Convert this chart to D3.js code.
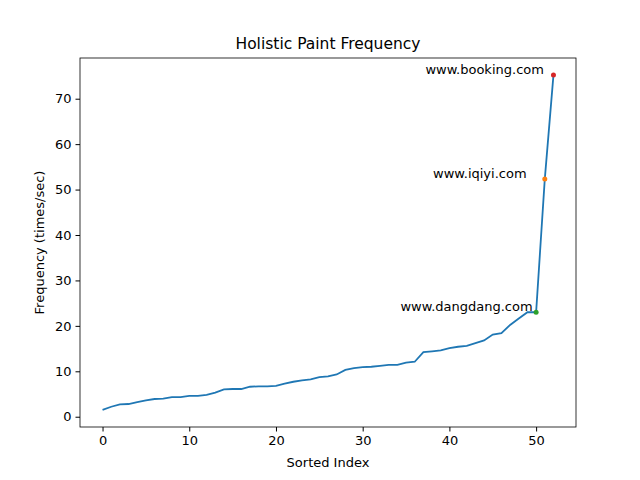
<!DOCTYPE html><html><head><script src="https://cdn.jsdelivr.net/npm/d3@7"></script>
<style>body{margin:0}text{font-family:"DejaVu Sans";}</style></head><body><svg width="640" height="480"></svg><script>
const values=[1.5,2.2,2.7,2.8,3.2,3.6,3.9,4.0,4.3,4.3,4.6,4.6,4.8,5.3,6.0,6.1,6.1,6.6,6.7,6.7,6.8,7.3,7.7,8.0,8.2,8.7,8.9,9.3,10.3,10.7,10.9,11.0,11.2,11.4,11.4,11.9,12.1,14.2,14.4,14.6,15.1,15.4,15.6,16.2,16.8,18.1,18.4,20.2,21.6,23.0,23.0,52.3,75.2];
const labels=[{i:50,t:"www.dangdang.com",c:"#2ca02c",lx:49.6,ly:24.1},{i:51,t:"www.iqiyi.com",c:"#ff7f0e",lx:48.9,ly:53.3},{i:52,t:"www.booking.com",c:"#d62728",lx:50.9,ly:76.3}];
const xTicks=[0,10,20,30,40,50],yTicks=[0,10,20,30,40,50,60,70];
const svg=d3.select("svg");
const L=80,R=576,T=58,B=427;
const x=d3.scaleLinear().domain([-2.6,54.6]).range([L,R]);
const y=d3.scaleLinear().domain([-2.26,78.96]).range([B,T]);
svg.append("g").attr("transform",`translate(0,${B})`).call(d3.axisBottom(x).tickValues(xTicks).tickSize(4.5).tickPadding(4)).call(g=>g.select(".domain").remove());
svg.append("g").attr("transform",`translate(${L},0)`).call(d3.axisLeft(y).tickValues(yTicks).tickSize(4.5).tickPadding(4)).call(g=>g.select(".domain").remove());
svg.selectAll(".tick text").attr("font-size",13).attr("font-family","DejaVu Sans").attr("fill","#000");
svg.append("rect").attr("x",L).attr("y",T).attr("width",R-L).attr("height",B-T).attr("fill","none").attr("stroke","#000").attr("stroke-width",0.8);
svg.append("path").datum(values).attr("d",d3.line().x((d,i)=>x(i)).y(d=>y(d))).attr("fill","none").attr("stroke","#1f77b4").attr("stroke-width",1.8);
labels.forEach(l=>{
svg.append("circle").attr("cx",x(l.i)).attr("cy",y(values[l.i])).attr("r",2.5).attr("fill",l.c);
svg.append("text").attr("x",x(l.lx)).attr("y",y(l.ly)).attr("text-anchor","end").attr("dominant-baseline","middle").attr("font-size",13).text(l.t);});
svg.append("text").attr("x",(L+R)/2).attr("y",49).attr("text-anchor","middle").attr("font-size",15.5).text("Holistic Paint Frequency");
svg.append("text").attr("x",(L+R)/2).attr("y",467).attr("text-anchor","middle").attr("font-size",13).text("Sorted Index");
svg.append("text").attr("transform",`translate(44,${(T+B)/2}) rotate(-90)`).attr("text-anchor","middle").attr("font-size",13).text("Frequency (times/sec)");
</script></body></html>
